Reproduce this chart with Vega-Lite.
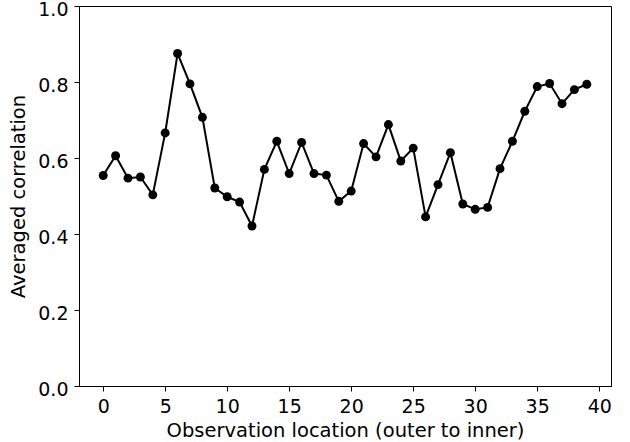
{
  "$schema": "https://vega.github.io/schema/vega-lite/v6.json",
  "width": 532,
  "height": 380,
  "autosize": {"type": "none"},
  "padding": {"left": 79, "top": 6, "right": 19, "bottom": 56},
  "background": "white",
  "config": {
    "view": {"stroke": "black", "strokeWidth": 1},
    "axis": {
      "grid": false,
      "domainColor": "black",
      "tickColor": "black",
      "tickSize": 5,
      "labelColor": "black",
      "titleColor": "black",
      "labelFont": "DejaVu Sans",
      "titleFont": "DejaVu Sans",
      "labelFontSize": 19,
      "titleFontSize": 19.5,
      "titleFontWeight": "normal"
    }
  },
  "data": {
    "values": [
      {"loc": 0, "corr": 0.554},
      {"loc": 1, "corr": 0.606},
      {"loc": 2, "corr": 0.547},
      {"loc": 3, "corr": 0.550},
      {"loc": 4, "corr": 0.503},
      {"loc": 5, "corr": 0.666},
      {"loc": 6, "corr": 0.875},
      {"loc": 7, "corr": 0.795},
      {"loc": 8, "corr": 0.707},
      {"loc": 9, "corr": 0.521},
      {"loc": 10, "corr": 0.498},
      {"loc": 11, "corr": 0.484},
      {"loc": 12, "corr": 0.421},
      {"loc": 13, "corr": 0.570},
      {"loc": 14, "corr": 0.644},
      {"loc": 15, "corr": 0.559},
      {"loc": 16, "corr": 0.641},
      {"loc": 17, "corr": 0.559},
      {"loc": 18, "corr": 0.555},
      {"loc": 19, "corr": 0.486},
      {"loc": 20, "corr": 0.513},
      {"loc": 21, "corr": 0.638},
      {"loc": 22, "corr": 0.603},
      {"loc": 23, "corr": 0.688},
      {"loc": 24, "corr": 0.592},
      {"loc": 25, "corr": 0.626},
      {"loc": 26, "corr": 0.445},
      {"loc": 27, "corr": 0.530},
      {"loc": 28, "corr": 0.614},
      {"loc": 29, "corr": 0.479},
      {"loc": 30, "corr": 0.465},
      {"loc": 31, "corr": 0.470},
      {"loc": 32, "corr": 0.572},
      {"loc": 33, "corr": 0.644},
      {"loc": 34, "corr": 0.723},
      {"loc": 35, "corr": 0.788},
      {"loc": 36, "corr": 0.796},
      {"loc": 37, "corr": 0.743},
      {"loc": 38, "corr": 0.780},
      {"loc": 39, "corr": 0.794}
    ]
  },
  "encoding": {
    "x": {
      "field": "loc",
      "type": "quantitative",
      "scale": {"domain": [-1.95, 40.95], "nice": false, "zero": false},
      "axis": {"values": [0, 5, 10, 15, 20, 25, 30, 35, 40], "title": "Observation location (outer to inner)", "labelPadding": 6, "titlePadding": 5}
    },
    "y": {
      "field": "corr",
      "type": "quantitative",
      "scale": {"domain": [0, 1], "nice": false},
      "axis": {"values": [0, 0.2, 0.4, 0.6, 0.8, 1.0], "format": ".1f", "title": "Averaged correlation", "labelPadding": 6, "titlePadding": 9, "labelOffset": 3}
    }
  },
  "layer": [
    {"mark": {"type": "line", "color": "black", "strokeWidth": 2}},
    {"mark": {"type": "point", "filled": true, "shape": "circle", "color": "black", "opacity": 1, "size": 80}}
  ]
}
